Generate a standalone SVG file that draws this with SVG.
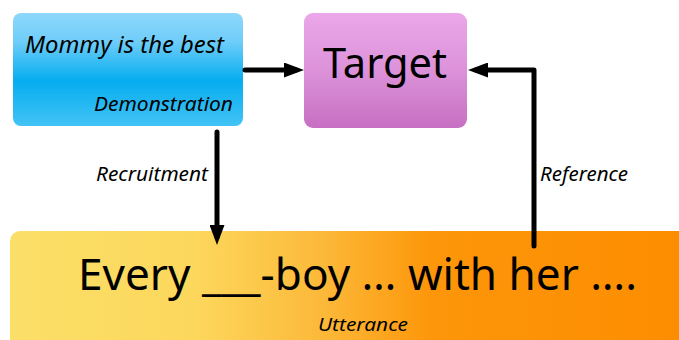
<svg xmlns="http://www.w3.org/2000/svg" width="679" height="340" viewBox="0 0 679 340">
<defs>
<linearGradient id="gBlue" x1="0" y1="0" x2="0" y2="1">
<stop offset="0" stop-color="#8ed8fc"/>
<stop offset="0.25" stop-color="#6fcdf9"/>
<stop offset="0.6" stop-color="#05adef"/>
<stop offset="1" stop-color="#43c3f6"/>
</linearGradient>
<linearGradient id="gPink" x1="0" y1="0" x2="0" y2="1">
<stop offset="0" stop-color="#eaa7e9"/>
<stop offset="0.5" stop-color="#dc92d9"/>
<stop offset="1" stop-color="#c76fc3"/>
</linearGradient>
<linearGradient id="gOrange" gradientUnits="userSpaceOnUse" x1="10" y1="0" x2="679" y2="0">
<stop offset="0" stop-color="#fbdf68"/>
<stop offset="0.28" stop-color="#fcd75c"/>
<stop offset="0.47" stop-color="#fcb838"/>
<stop offset="0.63" stop-color="#fd960a"/>
<stop offset="1" stop-color="#fd8d00"/>
</linearGradient>
<marker id="arr" markerUnits="userSpaceOnUse" markerWidth="20" markerHeight="15" refX="12" refY="7.5" orient="auto" viewBox="0 0 20 15">
<path d="M0,0 L20,7.5 L0,15 z" fill="#000"/>
</marker>
</defs>
<style>
.lbl{font-family:"Noto Sans","Open Sans","Liberation Sans",sans-serif;fill:#000}
.it{font-style:italic}
.conn{stroke:#000;stroke-width:5;fill:none;stroke-linejoin:round;stroke-linecap:round}
</style>
<rect width="679" height="340" fill="#fff"/>
<g id="demonstration">
<rect x="13" y="13" width="230" height="113" rx="8" fill="url(#gBlue)"/>
<text class="lbl it" x="25" y="53" font-size="23" textLength="199" lengthAdjust="spacingAndGlyphs">Mommy is the best</text>
<text class="lbl it" x="94" y="111" font-size="20" textLength="139" lengthAdjust="spacingAndGlyphs">Demonstration</text>
</g>
<g id="target">
<rect x="304" y="13" width="163" height="115" rx="9" fill="url(#gPink)"/>
<text class="lbl" x="323" y="78" font-size="42" textLength="124" lengthAdjust="spacingAndGlyphs">Target</text>
</g>
<g id="utterance">
<rect x="10" y="231" width="690" height="130" rx="10" fill="url(#gOrange)"/>
<text class="lbl" x="78" y="290" font-size="44" textLength="559" lengthAdjust="spacingAndGlyphs">Every ___-boy … with her ….</text>
<text class="lbl it" x="318" y="331" font-size="18" textLength="90" lengthAdjust="spacingAndGlyphs">Utterance</text>
</g>
<g id="connectors">
<path class="conn" d="M245,70 L296,70" marker-end="url(#arr)"/>
<path class="conn" d="M217,132 L217,237" marker-end="url(#arr)"/>
<path class="conn" d="M534,246 L534,70 L476,70" marker-end="url(#arr)"/>
<text class="lbl it" x="96" y="181" font-size="19" textLength="112" lengthAdjust="spacingAndGlyphs">Recruitment</text>
<text class="lbl it" x="540" y="181" font-size="19" textLength="88" lengthAdjust="spacingAndGlyphs">Reference</text>
</g>
</svg>
